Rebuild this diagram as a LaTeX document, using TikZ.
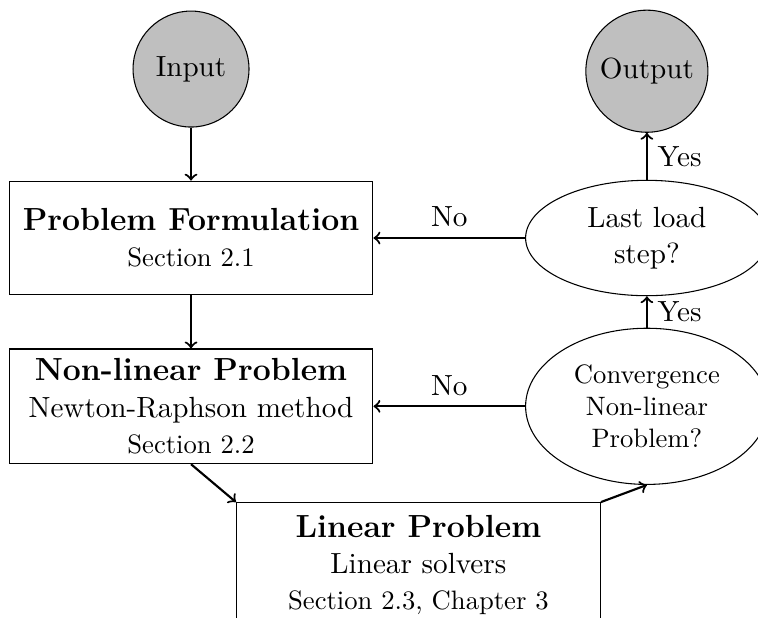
\documentclass[tikz,border=0pt,11pt]{standalone}
\usepackage{tikz}
\usetikzlibrary{positioning, shapes.geometric}
\tikzset{terminal/.style={circle,draw,fill=lightgray,minimum size=1.53cm},
  block/.style={rectangle,draw,minimum width=4.8cm,minimum height=1.5cm,align=center},
  decision/.style={ellipse,draw,minimum width=3.2cm,minimum height=1.49cm,align=center},
  flow/.style={->,thick}}

\begin{document}
\begin{tikzpicture}[>=to]
    \useasboundingbox (-2.52,0) rectangle (7.48,8.14);

    \node[block] (formulation) at (0,5)
      {{\large\bfseries Problem Formulation}\\ {\small Section 2.1}};
    \node[terminal, above=0.7cm of formulation] (input) {Input};
    \node[block, below=0.7cm of formulation] (nonlinear)
      {{\large\bfseries Non-linear Problem}\\ Newton-Raphson method\\ {\small Section 2.2}};
    \node[block, minimum height=1.65cm, below=0.5cm of nonlinear, xshift=3cm] (linear)
      {{\large\bfseries Linear Problem}\\ Linear solvers\\ {\small Section 2.3, Chapter 3}};

    \node[decision, right=2cm of formulation] (laststep) {Last load\\ step?};
    \node[terminal, above=0.62cm of laststep] (output) {Output};
    \node[decision, font=\small, minimum height=2.06cm, right=2cm of nonlinear] (convergence)
      {Convergence\\ Non-linear\\ Problem?};

    \draw[flow] (input) -- (formulation);
    \draw[flow] (formulation) -- (nonlinear);
    \draw[flow] (nonlinear.south) -- (linear.north west);
    \draw[flow] (linear.north east) -- (convergence.south);

    \draw[flow] (convergence) -- (laststep) node [midway,right] {Yes};
    \draw[flow] (laststep) -- (output) node [midway,right] {Yes};

    \draw[flow] (laststep) -- (formulation) node [midway,above] {No};
    \draw[flow] (convergence) -- (nonlinear) node [midway,above] {No};
\end{tikzpicture}
\end{document}
